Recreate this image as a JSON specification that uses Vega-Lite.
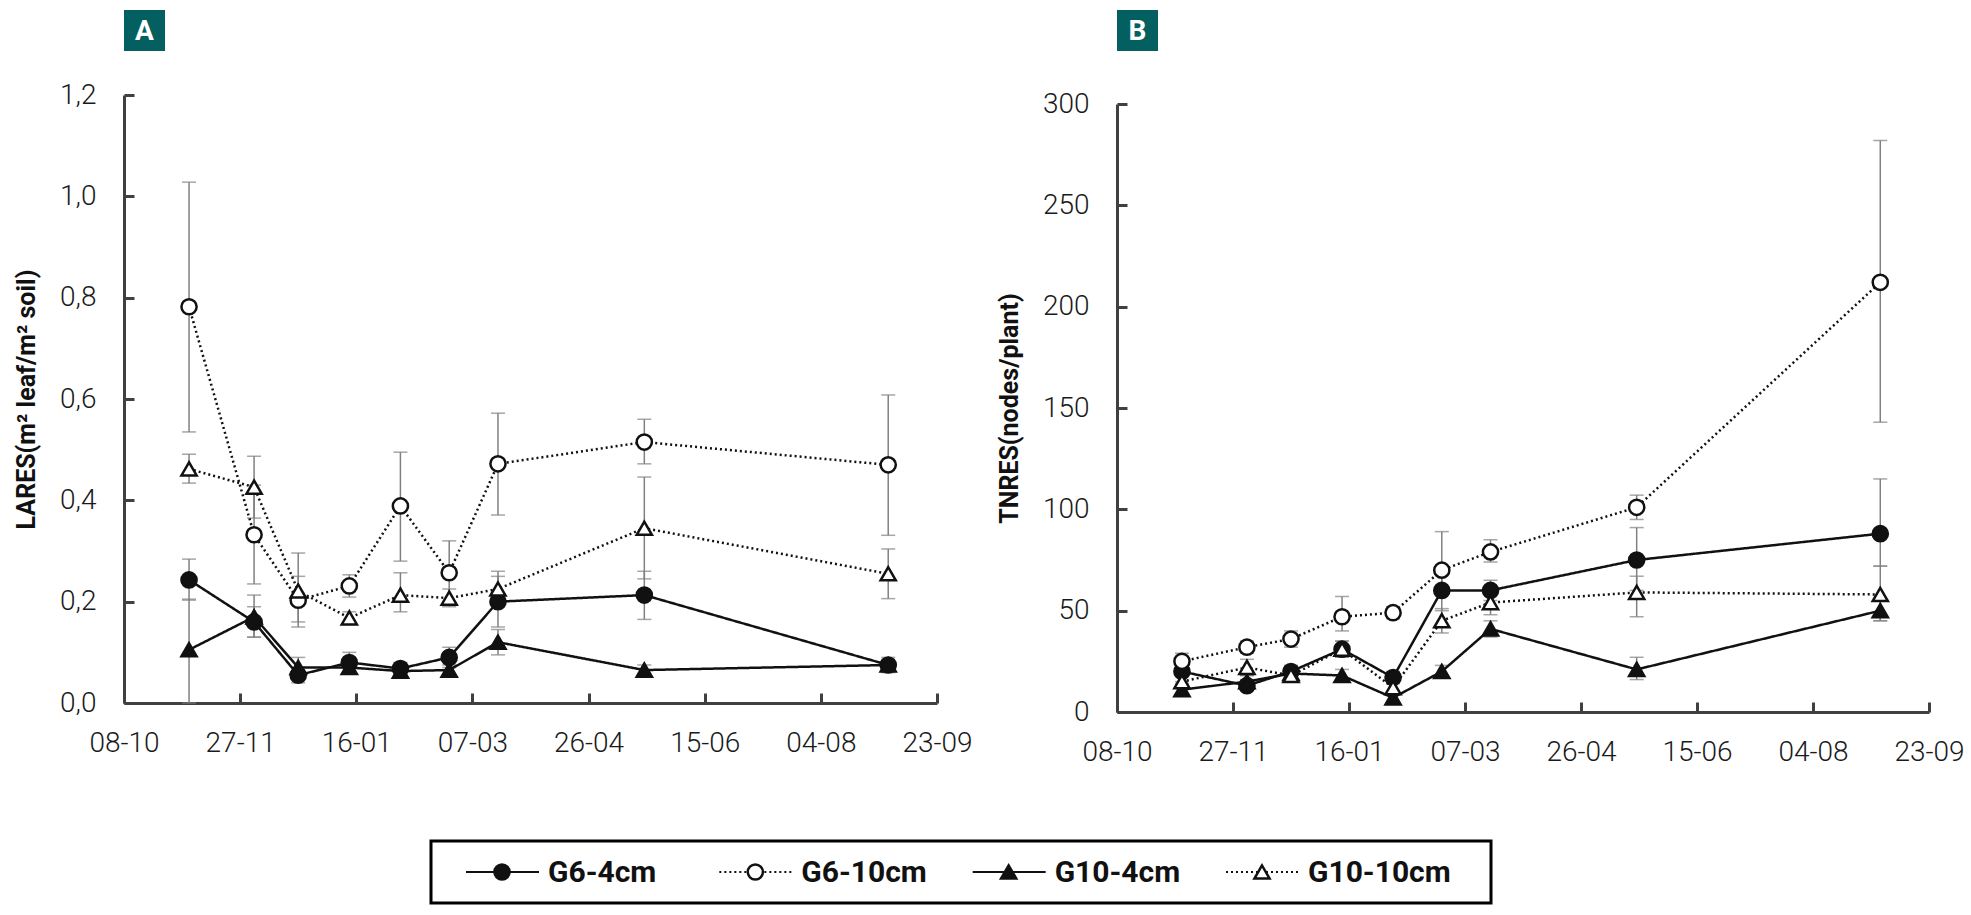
{
  "$schema": "https://vega.github.io/schema/vega-lite/v6.json",
  "background": "white",
  "padding": {"top": 10, "left": 14, "right": 5, "bottom": 5},
  "config": {
    "font": "Roboto",
    "view": {"stroke": null},
    "axis": {"grid": false, "domainColor": "#404040", "domainWidth": 3, "tickColor": "#404040", "tickWidth": 3, "tickSize": -10, "labelFont": "Roboto", "labelFontWeight": 300, "labelFontSize": 28, "labelColor": "#1a1a1a", "titleFont": "Roboto", "titleFontWeight": "bold", "titleFontSize": 25, "titleColor": "#111"}
  },
  "datasets": {
    "lai": [
      {"series": "G6-4cm", "date": "2018-11-05", "value": 0.243, "lo": 0.203, "hi": 0.284},
      {"series": "G6-4cm", "date": "2018-12-03", "value": 0.16, "lo": 0.13, "hi": 0.19},
      {"series": "G6-4cm", "date": "2018-12-22", "value": 0.055, "lo": 0.04, "hi": 0.07},
      {"series": "G6-4cm", "date": "2019-01-13", "value": 0.08, "lo": 0.06, "hi": 0.1},
      {"series": "G6-4cm", "date": "2019-02-04", "value": 0.068, "lo": 0.055, "hi": 0.08},
      {"series": "G6-4cm", "date": "2019-02-25", "value": 0.09, "lo": 0.07, "hi": 0.11},
      {"series": "G6-4cm", "date": "2019-03-18", "value": 0.2, "lo": 0.15, "hi": 0.25},
      {"series": "G6-4cm", "date": "2019-05-20", "value": 0.213, "lo": 0.165, "hi": 0.26},
      {"series": "G6-4cm", "date": "2019-09-02", "value": 0.075, "lo": 0.06, "hi": 0.09},
      {"series": "G6-10cm", "date": "2018-11-05", "value": 0.782, "lo": 0.535, "hi": 1.028},
      {"series": "G6-10cm", "date": "2018-12-03", "value": 0.332, "lo": 0.235, "hi": 0.43},
      {"series": "G6-10cm", "date": "2018-12-22", "value": 0.203, "lo": 0.16, "hi": 0.25},
      {"series": "G6-10cm", "date": "2019-01-13", "value": 0.231, "lo": 0.209, "hi": 0.253},
      {"series": "G6-10cm", "date": "2019-02-04", "value": 0.389, "lo": 0.28, "hi": 0.495},
      {"series": "G6-10cm", "date": "2019-02-25", "value": 0.257, "lo": 0.195, "hi": 0.32},
      {"series": "G6-10cm", "date": "2019-03-18", "value": 0.472, "lo": 0.371, "hi": 0.572},
      {"series": "G6-10cm", "date": "2019-05-20", "value": 0.515, "lo": 0.472, "hi": 0.56},
      {"series": "G6-10cm", "date": "2019-09-02", "value": 0.47, "lo": 0.331, "hi": 0.608},
      {"series": "G10-4cm", "date": "2018-11-05", "value": 0.105, "lo": 0.0, "hi": 0.205},
      {"series": "G10-4cm", "date": "2018-12-03", "value": 0.17, "lo": 0.13, "hi": 0.213},
      {"series": "G10-4cm", "date": "2018-12-22", "value": 0.07, "lo": 0.05, "hi": 0.09},
      {"series": "G10-4cm", "date": "2019-01-13", "value": 0.07, "lo": 0.06, "hi": 0.08},
      {"series": "G10-4cm", "date": "2019-02-04", "value": 0.063, "lo": 0.055, "hi": 0.07},
      {"series": "G10-4cm", "date": "2019-02-25", "value": 0.065, "lo": 0.055, "hi": 0.075},
      {"series": "G10-4cm", "date": "2019-03-18", "value": 0.12, "lo": 0.095, "hi": 0.145},
      {"series": "G10-4cm", "date": "2019-05-20", "value": 0.065, "lo": 0.055, "hi": 0.075},
      {"series": "G10-4cm", "date": "2019-09-02", "value": 0.075, "lo": 0.065, "hi": 0.085},
      {"series": "G10-10cm", "date": "2018-11-05", "value": 0.462, "lo": 0.434, "hi": 0.491},
      {"series": "G10-10cm", "date": "2018-12-03", "value": 0.426, "lo": 0.365, "hi": 0.487},
      {"series": "G10-10cm", "date": "2018-12-22", "value": 0.221, "lo": 0.15, "hi": 0.296},
      {"series": "G10-10cm", "date": "2019-01-13", "value": 0.168, "lo": 0.155, "hi": 0.18},
      {"series": "G10-10cm", "date": "2019-02-04", "value": 0.213, "lo": 0.18, "hi": 0.257},
      {"series": "G10-10cm", "date": "2019-02-25", "value": 0.207, "lo": 0.19, "hi": 0.225},
      {"series": "G10-10cm", "date": "2019-03-18", "value": 0.225, "lo": 0.19, "hi": 0.26},
      {"series": "G10-10cm", "date": "2019-05-20", "value": 0.345, "lo": 0.245, "hi": 0.446},
      {"series": "G10-10cm", "date": "2019-09-02", "value": 0.255, "lo": 0.206, "hi": 0.304}
    ],
    "tn": [
      {"series": "G6-4cm", "date": "2018-11-05", "value": 20, "lo": 15, "hi": 25},
      {"series": "G6-4cm", "date": "2018-12-03", "value": 13, "lo": 11, "hi": 16},
      {"series": "G6-4cm", "date": "2018-12-22", "value": 20, "lo": 17, "hi": 23},
      {"series": "G6-4cm", "date": "2019-01-13", "value": 31, "lo": 27, "hi": 35},
      {"series": "G6-4cm", "date": "2019-02-04", "value": 17, "lo": 14, "hi": 20},
      {"series": "G6-4cm", "date": "2019-02-25", "value": 60, "lo": 50, "hi": 70},
      {"series": "G6-4cm", "date": "2019-03-18", "value": 60, "lo": 55, "hi": 65},
      {"series": "G6-4cm", "date": "2019-05-20", "value": 75, "lo": 60, "hi": 91},
      {"series": "G6-4cm", "date": "2019-09-02", "value": 88, "lo": 72, "hi": 115},
      {"series": "G6-10cm", "date": "2018-11-05", "value": 25, "lo": 22, "hi": 29},
      {"series": "G6-10cm", "date": "2018-12-03", "value": 32, "lo": 29, "hi": 35},
      {"series": "G6-10cm", "date": "2018-12-22", "value": 36, "lo": 32, "hi": 40},
      {"series": "G6-10cm", "date": "2019-01-13", "value": 47, "lo": 40, "hi": 57},
      {"series": "G6-10cm", "date": "2019-02-04", "value": 49, "lo": 46, "hi": 52},
      {"series": "G6-10cm", "date": "2019-02-25", "value": 70, "lo": 60, "hi": 89},
      {"series": "G6-10cm", "date": "2019-03-18", "value": 79, "lo": 74, "hi": 85},
      {"series": "G6-10cm", "date": "2019-05-20", "value": 101, "lo": 95, "hi": 107},
      {"series": "G6-10cm", "date": "2019-09-02", "value": 212, "lo": 143, "hi": 282},
      {"series": "G10-4cm", "date": "2018-11-05", "value": 11, "lo": 8, "hi": 14},
      {"series": "G10-4cm", "date": "2018-12-03", "value": 15, "lo": 12, "hi": 18},
      {"series": "G10-4cm", "date": "2018-12-22", "value": 19, "lo": 16, "hi": 22},
      {"series": "G10-4cm", "date": "2019-01-13", "value": 18, "lo": 15, "hi": 21},
      {"series": "G10-4cm", "date": "2019-02-04", "value": 7, "lo": 5, "hi": 9},
      {"series": "G10-4cm", "date": "2019-02-25", "value": 20, "lo": 17, "hi": 23},
      {"series": "G10-4cm", "date": "2019-03-18", "value": 41, "lo": 37, "hi": 45},
      {"series": "G10-4cm", "date": "2019-05-20", "value": 21, "lo": 16, "hi": 27},
      {"series": "G10-4cm", "date": "2019-09-02", "value": 50, "lo": 45, "hi": 55},
      {"series": "G10-10cm", "date": "2018-11-05", "value": 15, "lo": 12, "hi": 18},
      {"series": "G10-10cm", "date": "2018-12-03", "value": 22, "lo": 18, "hi": 26},
      {"series": "G10-10cm", "date": "2018-12-22", "value": 18, "lo": 15, "hi": 21},
      {"series": "G10-10cm", "date": "2019-01-13", "value": 31, "lo": 27, "hi": 35},
      {"series": "G10-10cm", "date": "2019-02-04", "value": 12, "lo": 9, "hi": 15},
      {"series": "G10-10cm", "date": "2019-02-25", "value": 45, "lo": 39, "hi": 51},
      {"series": "G10-10cm", "date": "2019-03-18", "value": 54, "lo": 48, "hi": 60},
      {"series": "G10-10cm", "date": "2019-05-20", "value": 59, "lo": 47, "hi": 67},
      {"series": "G10-10cm", "date": "2019-09-02", "value": 58, "lo": 45, "hi": 72}
    ],
    "legend": [
      {"series": "G6-4cm"}, {"series": "G6-10cm"}, {"series": "G10-4cm"}, {"series": "G10-10cm"}
    ]
  },
  "vconcat": [
    {
      "hconcat": [
        {
          "vconcat": [
            {
              "width": 41,
              "height": 41,
              "view": {"fill": "#035f60", "stroke": null},
              "data": {"values": [{"label": "A"}]},
              "mark": {"type": "text", "color": "white", "font": "Roboto", "fontWeight": "bold", "fontSize": 28, "baseline": "middle", "align": "center", "dy": 1},
              "encoding": {"text": {"field": "label"}}
            },
            {
              "width": 813,
              "height": 608,
              "data": {"name": "lai"},
              "encoding": {
                "x": {"field": "date", "type": "temporal", "title": null,
                  "scale": {"type": "utc", "domain": [{"year": 2018, "month": 10, "date": 8, "utc": true}, {"year": 2019, "month": 9, "date": 23, "utc": true}]},
                  "axis": {"values": [{"year": 2018, "month": 10, "date": 8, "utc": true}, {"year": 2018, "month": 11, "date": 27, "utc": true}, {"year": 2019, "month": 1, "date": 16, "utc": true}, {"year": 2019, "month": 3, "date": 7, "utc": true}, {"year": 2019, "month": 4, "date": 26, "utc": true}, {"year": 2019, "month": 6, "date": 15, "utc": true}, {"year": 2019, "month": 8, "date": 4, "utc": true}, {"year": 2019, "month": 9, "date": 23, "utc": true}], "labelExpr": "utcFormat(datum.value, '%d-%m')", "labelPadding": 36, "labelFlush": false}}
              },
              "layer": [
                {
                  "mark": {"type": "errorbar", "ticks": {"size": 14, "thickness": 1.5, "color": "#808080"}, "rule": {"strokeWidth": 1.5, "color": "#808080"}},
                  "encoding": {
                    "y": {"field": "lo", "type": "quantitative", "title": "LARES(m² leaf/m² soil)", "scale": {"domain": [0, 1.2]}},
                    "y2": {"field": "hi"}
                  }
                },
                {
                  "mark": {"type": "line", "color": "#111", "strokeWidth": 2.5},
                  "encoding": {
                    "y": {"field": "value", "type": "quantitative", "title": "LARES(m² leaf/m² soil)", "scale": {"domain": [0, 1.2]},
                      "axis": {"values": [0, 0.2, 0.4, 0.6, 0.8, 1.0, 1.2], "labelExpr": "replace(format(datum.value, '.1f'), '.', ',')", "labelPadding": 38, "titlePadding": 20}},
                    "detail": {"field": "series"},
                    "strokeDash": {"field": "series", "type": "nominal", "legend": null, "scale": {"domain": ["G6-4cm", "G6-10cm", "G10-4cm", "G10-10cm"], "range": [[1, 0], [2, 3], [1, 0], [2, 3]]}}
                  }
                },
                {
                  "mark": {"type": "point", "size": 230, "strokeWidth": 2.5, "stroke": "#111", "opacity": 1, "filled": true},
                  "encoding": {
                    "y": {"field": "value", "type": "quantitative", "title": "LARES(m² leaf/m² soil)"},
                    "shape": {"field": "series", "type": "nominal", "legend": null, "scale": {"domain": ["G6-4cm", "G6-10cm", "G10-4cm", "G10-10cm"], "range": ["circle", "circle", "triangle-up", "triangle-up"]}},
                    "fill": {"field": "series", "type": "nominal", "legend": null, "scale": {"domain": ["G6-4cm", "G6-10cm", "G10-4cm", "G10-10cm"], "range": ["#111111", "#ffffff", "#111111", "#ffffff"]}}
                  }
                }
              ]
            }
          ],
          "spacing": 30
        },
        {
          "vconcat": [
            {
              "width": 41,
              "height": 41,
              "view": {"fill": "#035f60", "stroke": null},
              "data": {"values": [{"label": "B"}]},
              "mark": {"type": "text", "color": "white", "font": "Roboto", "fontWeight": "bold", "fontSize": 28, "baseline": "middle", "align": "center", "dy": 1},
              "encoding": {"text": {"field": "label"}}
            },
            {
              "width": 812,
              "height": 608,
              "data": {"name": "tn"},
              "encoding": {
                "x": {"field": "date", "type": "temporal", "title": null,
                  "scale": {"type": "utc", "domain": [{"year": 2018, "month": 10, "date": 8, "utc": true}, {"year": 2019, "month": 9, "date": 23, "utc": true}]},
                  "axis": {"values": [{"year": 2018, "month": 10, "date": 8, "utc": true}, {"year": 2018, "month": 11, "date": 27, "utc": true}, {"year": 2019, "month": 1, "date": 16, "utc": true}, {"year": 2019, "month": 3, "date": 7, "utc": true}, {"year": 2019, "month": 4, "date": 26, "utc": true}, {"year": 2019, "month": 6, "date": 15, "utc": true}, {"year": 2019, "month": 8, "date": 4, "utc": true}, {"year": 2019, "month": 9, "date": 23, "utc": true}], "labelExpr": "utcFormat(datum.value, '%d-%m')", "labelPadding": 36, "labelFlush": false}}
              },
              "layer": [
                {
                  "mark": {"type": "errorbar", "ticks": {"size": 14, "thickness": 1.5, "color": "#808080"}, "rule": {"strokeWidth": 1.5, "color": "#808080"}},
                  "encoding": {
                    "y": {"field": "lo", "type": "quantitative", "title": "TNRES(nodes/plant)", "scale": {"domain": [0, 300]}},
                    "y2": {"field": "hi"}
                  }
                },
                {
                  "mark": {"type": "line", "color": "#111", "strokeWidth": 2.5},
                  "encoding": {
                    "y": {"field": "value", "type": "quantitative", "title": "TNRES(nodes/plant)", "scale": {"domain": [0, 300]},
                      "axis": {"values": [0, 50, 100, 150, 200, 250, 300], "labelPadding": 38, "titlePadding": 20}},
                    "detail": {"field": "series"},
                    "strokeDash": {"field": "series", "type": "nominal", "legend": null, "scale": {"domain": ["G6-4cm", "G6-10cm", "G10-4cm", "G10-10cm"], "range": [[1, 0], [2, 3], [1, 0], [2, 3]]}}
                  }
                },
                {
                  "mark": {"type": "point", "size": 230, "strokeWidth": 2.5, "stroke": "#111", "opacity": 1, "filled": true},
                  "encoding": {
                    "y": {"field": "value", "type": "quantitative", "title": "TNRES(nodes/plant)"},
                    "shape": {"field": "series", "type": "nominal", "legend": null, "scale": {"domain": ["G6-4cm", "G6-10cm", "G10-4cm", "G10-10cm"], "range": ["circle", "circle", "triangle-up", "triangle-up"]}},
                    "fill": {"field": "series", "type": "nominal", "legend": null, "scale": {"domain": ["G6-4cm", "G6-10cm", "G10-4cm", "G10-10cm"], "range": ["#111111", "#ffffff", "#111111", "#ffffff"]}}
                  }
                }
              ]
            }
          ],
          "spacing": 39
        }
      ],
      "spacing": 24
    },
    {
      "hconcat": [
        {
          "width": 285,
          "height": 62,
          "data": {"values": []},
          "mark": {"type": "rule"},
          "encoding": {}
        },
        {
          "width": 1060,
          "height": 62,
          "view": {"stroke": "#000", "strokeWidth": 3},
          "data": {"name": "legend"},
          "encoding": {
            "x": {"field": "series", "type": "nominal", "axis": null, "scale": {"type": "point", "padding": 0, "domain": ["G6-4cm", "G6-10cm", "G10-4cm", "G10-10cm"], "range": [35, 795]}},
            "y": {"datum": 0.5, "type": "quantitative", "axis": null, "scale": {"domain": [0, 1]}}
          },
          "layer": [
            {
              "mark": {"type": "rule", "color": "#111", "strokeWidth": 2, "x2Offset": 73},
              "encoding": {
                "x2": {"field": "series"},
                "strokeDash": {"field": "series", "type": "nominal", "legend": null, "scale": {"domain": ["G6-4cm", "G6-10cm", "G10-4cm", "G10-10cm"], "range": [[1, 0], [2, 3], [1, 0], [2, 3]]}}
              }
            },
            {
              "mark": {"type": "point", "size": 230, "strokeWidth": 2.5, "stroke": "#111", "opacity": 1, "filled": true, "xOffset": 36},
              "encoding": {
                "shape": {"field": "series", "type": "nominal", "legend": null},
                "fill": {"field": "series", "type": "nominal", "legend": null}
              }
            },
            {
              "mark": {"type": "text", "font": "Roboto", "fontWeight": "bold", "fontSize": 30, "color": "#111", "align": "left", "baseline": "middle", "xOffset": 82, "dy": 1},
              "encoding": {"text": {"field": "series"}}
            }
          ]
        }
      ],
      "spacing": 20
    }
  ],
  "spacing": 73
}
